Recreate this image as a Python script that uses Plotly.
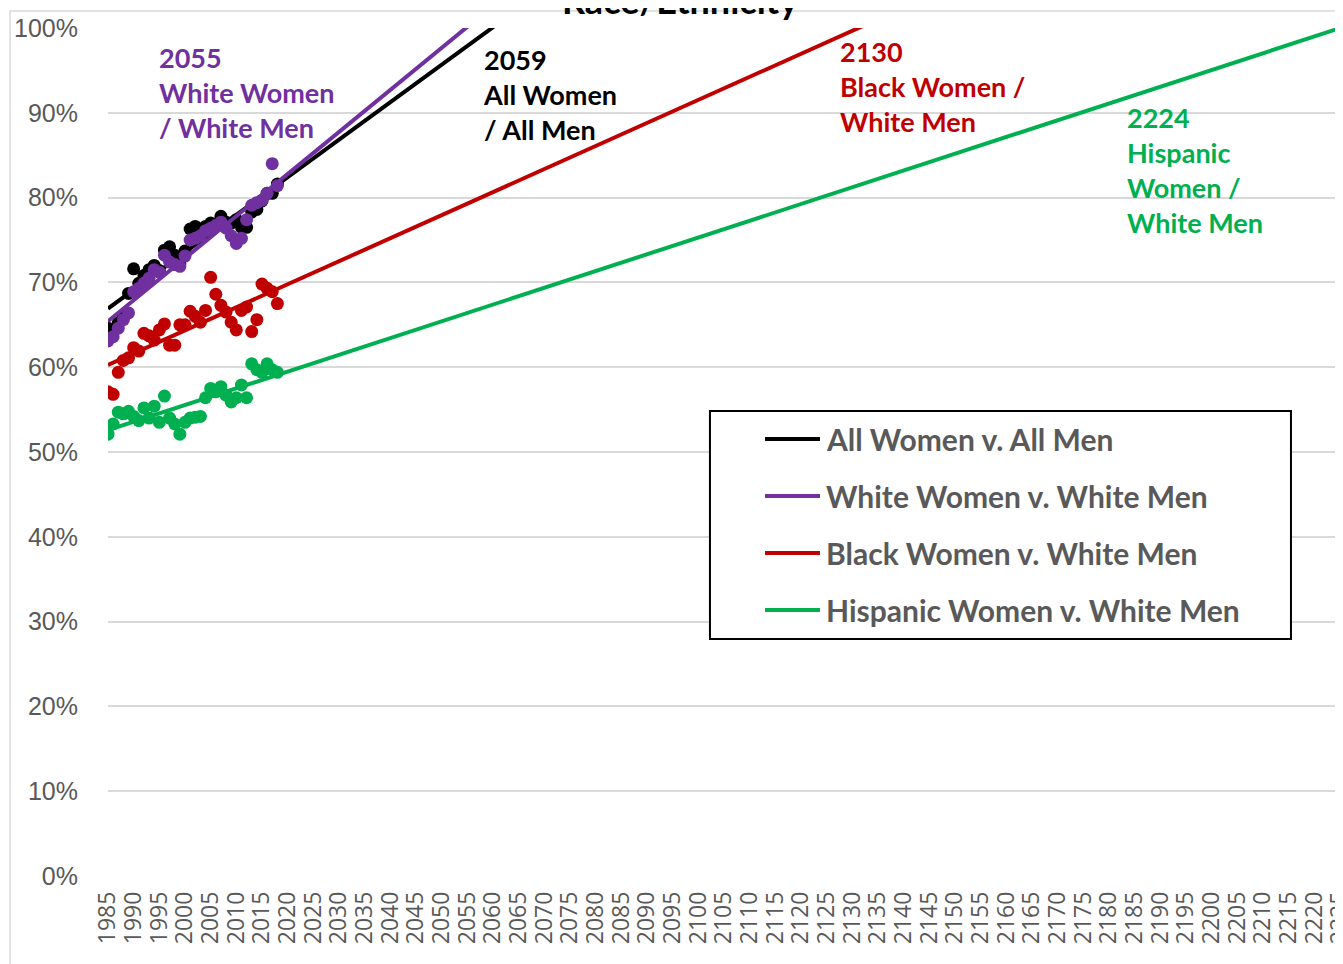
import numpy as np
import plotly.graph_objects as go

years = list(range(1985, 2019))

all_women = [64.6, 64.3, 65.2, 66.0, 68.7, 71.6, 69.9, 70.8, 71.5, 72.0, 71.4, 73.8,
             74.2, 73.2, 72.2, 73.7, 76.3, 76.6, 75.5, 76.6, 77.0, 76.9, 77.8, 77.1,
             77.0, 77.4, 76.5, 76.5, 78.3, 78.6, 79.6, 80.5, 80.5, 81.6]
white_women = [63.1, 63.6, 64.6, 65.6, 66.4, 68.9, 69.3, 69.9, 70.5, 71.5, 71.2, 73.2,
               72.4, 72.1, 71.9, 73.1, 75.0, 75.2, 75.5, 76.1, 76.4, 76.7, 77.1, 76.4,
               75.5, 74.6, 75.2, 77.4, 79.1, 79.4, 79.7, 80.5, 84.0, 81.4]
black_women = [57.1, 56.8, 59.4, 60.8, 61.1, 62.3, 61.9, 64.0, 63.7, 63.2, 64.4, 65.1,
               62.6, 62.6, 65.0, 65.0, 66.6, 66.0, 65.3, 66.7, 70.6, 68.6, 67.3, 66.5,
               65.3, 64.4, 66.7, 67.1, 64.2, 65.6, 69.8, 69.3, 68.9, 67.5]
hispanic_women = [52.1, 53.3, 54.7, 54.5, 54.8, 54.2, 53.7, 55.2, 54.0, 55.4, 53.5, 56.6,
                  54.0, 53.3, 52.1, 53.5, 54.0, 54.1, 54.2, 56.4, 57.5, 57.1, 57.7, 56.7,
                  55.9, 56.4, 57.9, 56.4, 60.4, 59.7, 59.4, 60.4, 59.7, 59.4]

series_names = ["All Women v. All Men", "White Women v. White Men",
                "Black Women v. White Men", "Hispanic Women v. White Men"]
series_values = [all_women, white_women, black_women, hispanic_women]
colors = ["#000000", "#7030A0", "#C00000", "#00B050"]

label_texts = ["2059<br>All Women<br>/ All Men",
               "2055<br>White Women<br>/ White Men",
               "2130<br>Black Women /<br>White Men",
               "2224<br>Hispanic<br>Women /<br>White Men"]
label_x = [2057.6, 1994.5, 2127.2, 2183.1]
label_y = [98.5, 98.7, 99.4, 91.6]

x_ticks = list(range(1985, 2226, 5))
y_ticks = list(range(0, 101, 10))
y_ticktext = [f"{v}%" for v in y_ticks]
forecast_x = [1985, 2225]

fig = go.Figure()

for name, vals, col in zip(series_names, series_values, colors):
    fig.add_trace(go.Scatter(x=years, y=vals, mode="markers", name=name,
                             marker=dict(color=col, size=13), showlegend=False))
    slope, intercept = np.polyfit(years, vals, 1)
    fx = np.array(forecast_x, dtype=float)
    fig.add_trace(go.Scatter(x=fx, y=slope * fx + intercept, mode="lines",
                             line=dict(color=col, width=4), showlegend=False,
                             hoverinfo="skip"))

font_main = "Lato, 'Open Sans', sans-serif"
tick_gray = "#595959"

annotations = []
for txt, lx, ly, col in zip(label_texts, label_x, label_y, colors):
    annotations.append(dict(x=lx, y=ly / 100.0, xref="x", yref="paper",
                            text="<b>" + txt + "</b>",
                            showarrow=False, xanchor="left", yanchor="top", align="left",
                            font=dict(family=font_main, size=27, color=col)))

# Title (cut off at top as in reference)
annotations.append(dict(x=0.464, y=1.033, xref="paper", yref="paper",
                        text="<b>Race/Ethnicity</b>", showarrow=False,
                        xanchor="center", yanchor="middle",
                        font=dict(family=font_main, size=36, color="#000000")))

shapes = []
# chart area border
shapes.append(dict(type="rect", xref="paper", yref="paper", x0=-0.0795, x1=1.05,
                   y0=-0.2, y1=1.02, line=dict(color="#d9d9d9", width=1.5),
                   fillcolor="rgba(0,0,0,0)", layer="below"))
# legend box
lx0, lx1, ly0, ly1 = 0.4886, 0.9602, 0.2795, 0.5483
shapes.append(dict(type="rect", xref="paper", yref="paper", x0=lx0, x1=lx1, y0=ly0, y1=ly1,
                   line=dict(color="#000000", width=2), fillcolor="#ffffff"))
row_y = [0.5153, 0.4481, 0.3809, 0.3137]
for name, col, ry in zip(series_names, colors, row_y):
    shapes.append(dict(type="line", xref="paper", yref="paper", x0=0.5333, x1=0.5779,
                       y0=ry, y1=ry, line=dict(color=col, width=4)))
    annotations.append(dict(x=0.5812, y=ry, xref="paper", yref="paper",
                            text="<b>" + name + "</b>", showarrow=False,
                            xanchor="left", yanchor="middle",
                            font=dict(family=font_main, size=30, color=tick_gray)))

fig.update_layout(
    width=1343, height=964, autosize=False,
    margin=dict(l=100, r=11, t=20, b=96, autoexpand=False),
    plot_bgcolor="#ffffff", paper_bgcolor="#ffffff",
    annotations=annotations, shapes=shapes, showlegend=False,
    xaxis=dict(range=[1985, 2225.02], tickvals=x_ticks, ticktext=[str(v) for v in x_ticks],
               tickangle=-90, showgrid=False, zeroline=False, showline=False,
               automargin=False, ticklabeloverflow="allow",
               tickfont=dict(family="'Open Sans', sans-serif", size=23, color=tick_gray),
               ticks="", ticklabelstandoff=10),
    yaxis=dict(range=[0, 100], tickvals=y_ticks, ticktext=y_ticktext,
               showgrid=True, gridcolor="#d9d9d9", gridwidth=1.5, zeroline=False,
               showline=False, ticks="", automargin=False,
               tickfont=dict(family="'Liberation Sans', Arial, sans-serif", size=25,
                             color=tick_gray),
               ticklabelstandoff=29),
)

fig.write_html("out.html")
